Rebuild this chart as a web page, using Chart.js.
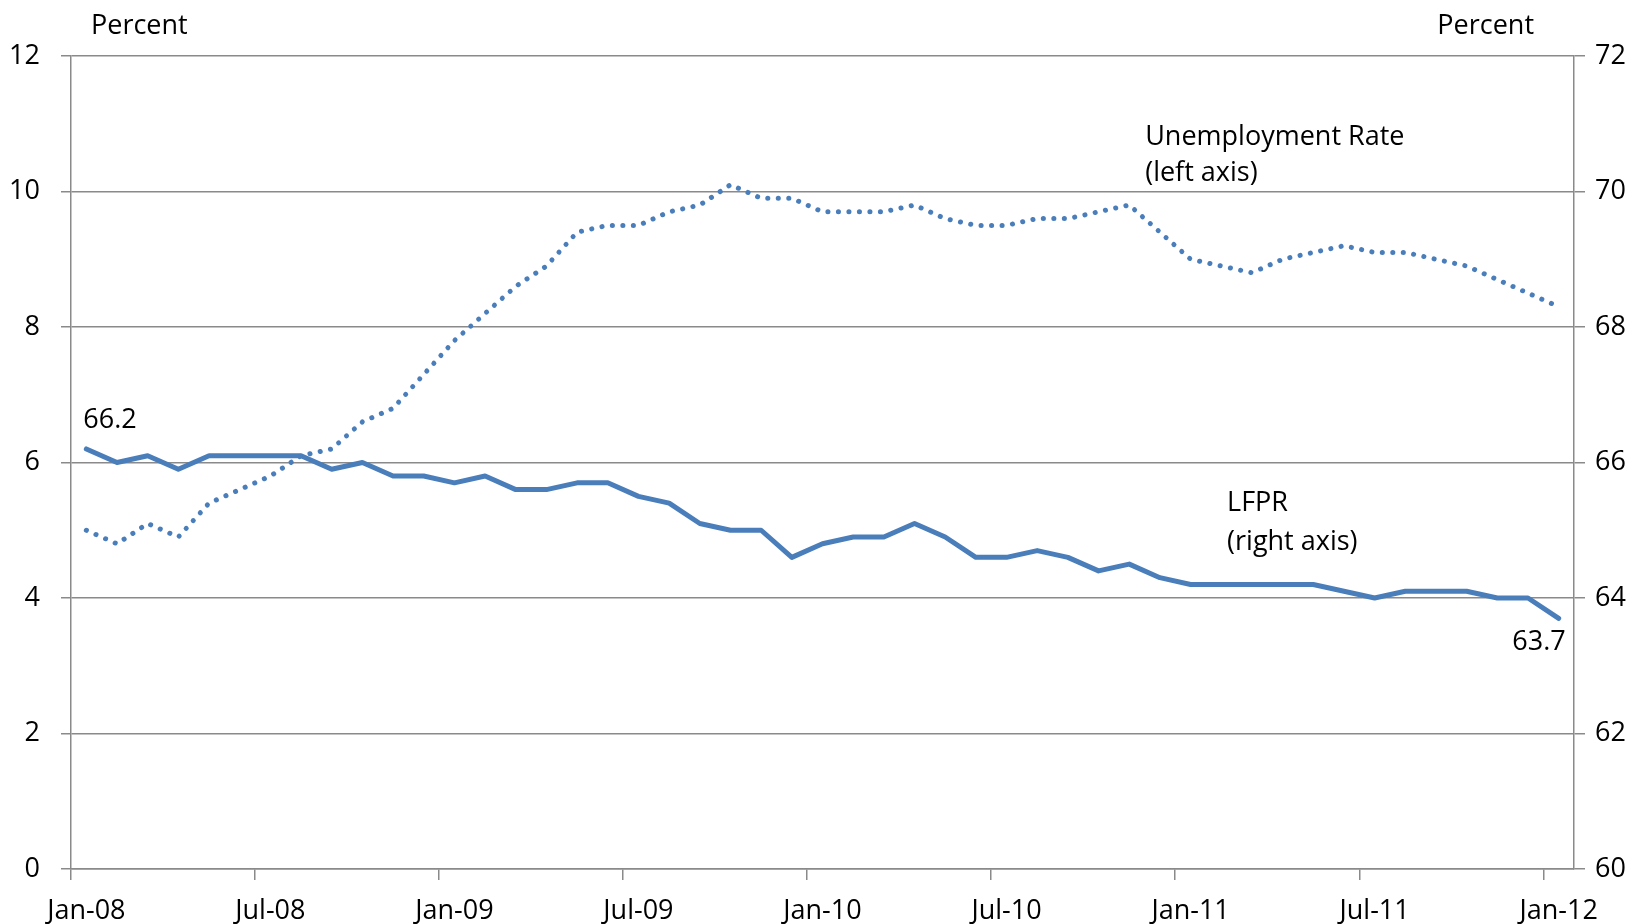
<!DOCTYPE html>
<html>
<head>
<meta charset="utf-8">
<script src="https://cdn.jsdelivr.net/npm/chart.js@4.4.1/dist/chart.umd.min.js"></script>
<style>
    html, body { margin: 0; padding: 0; background: #fff; }
    #wrap { width: 1641px; height: 924px; }
</style>
</head>
<body>
<div id="wrap"><canvas id="mainChart" width="1641" height="924"></canvas></div>
<script>
    // Monthly, Jan-08 .. Jan-12
    const months = [
        'Jan-08','Feb-08','Mar-08','Apr-08','May-08','Jun-08','Jul-08','Aug-08','Sep-08','Oct-08','Nov-08','Dec-08',
        'Jan-09','Feb-09','Mar-09','Apr-09','May-09','Jun-09','Jul-09','Aug-09','Sep-09','Oct-09','Nov-09','Dec-09',
        'Jan-10','Feb-10','Mar-10','Apr-10','May-10','Jun-10','Jul-10','Aug-10','Sep-10','Oct-10','Nov-10','Dec-10',
        'Jan-11','Feb-11','Mar-11','Apr-11','May-11','Jun-11','Jul-11','Aug-11','Sep-11','Oct-11','Nov-11','Dec-11',
        'Jan-12'
    ];

    // unemployment rate, left axis
    const unemployment = [
        5.0, 4.8, 5.1, 4.9, 5.4, 5.6, 5.8, 6.1, 6.2, 6.6, 6.8, 7.3,
        7.8, 8.2, 8.6, 8.9, 9.4, 9.5, 9.5, 9.7, 9.8, 10.1, 9.9, 9.9,
        9.7, 9.7, 9.7, 9.8, 9.6, 9.5, 9.5, 9.6, 9.6, 9.7, 9.8, 9.4,
        9.0, 8.9, 8.8, 9.0, 9.1, 9.2, 9.1, 9.1, 9.0, 8.9, 8.7, 8.5,
        8.3
    ];

    // labor force participation rate, right axis
    const lfpr = [
        66.2, 66.0, 66.1, 65.9, 66.1, 66.1, 66.1, 66.1, 65.9, 66.0, 65.8, 65.8,
        65.7, 65.8, 65.6, 65.6, 65.7, 65.7, 65.5, 65.4, 65.1, 65.0, 65.0, 64.6,
        64.8, 64.9, 64.9, 65.1, 64.9, 64.6, 64.6, 64.7, 64.6, 64.4, 64.5, 64.3,
        64.2, 64.2, 64.2, 64.2, 64.2, 64.1, 64.0, 64.1, 64.1, 64.1, 64.0, 64.0,
        63.7
    ];

    const leftTicks = [0, 2, 4, 6, 8, 10, 12];
    const rightTicks = [60, 62, 64, 66, 68, 70, 72];

    const BLUE = '#4a7ebb';
    const GRID = '#8a8a8a';
    const FONT_FAMILY = '"Open Sans", sans-serif';
    const FONT_SIZE = 27;
    const FONT = `${FONT_SIZE}px ${FONT_FAMILY}`;

    // text that Excel put on the plot
    const notesPlugin = {
        id: 'notes',
        afterDraw(chart) {
            const { ctx, chartArea: a, scales } = chart;
            const x = scales.x, y = scales.y, y1 = scales.y1;
            const last = lfpr.length - 1;
            ctx.save();
            ctx.font = FONT;
            ctx.fillStyle = '#000';
            ctx.textBaseline = 'middle';

            ctx.textAlign = 'left';
            ctx.fillText('Percent', a.left + 20, 26);
            ctx.textAlign = 'right';
            ctx.fillText('Percent', a.right - 40, 26);

            ctx.textAlign = 'left';
            const ux = x.getPixelForValue(34.52);
            const uy = y.getPixelForValue(10.8);
            ctx.fillText('Unemployment Rate', ux, uy);
            ctx.fillText('(left axis)', ux, uy + 36);

            const lx = x.getPixelForValue(37.19);
            const ly = y1.getPixelForValue(65.4);
            ctx.fillText('LFPR', lx, ly);
            ctx.fillText('(right axis)', lx, ly + 39);

            // end point labels
            const p0x = x.getPixelForValue(0), p0y = y1.getPixelForValue(lfpr[0]);
            ctx.fillText(lfpr[0].toFixed(1), p0x - 3, p0y - 29);
            const pnx = x.getPixelForValue(last), pny = y1.getPixelForValue(lfpr[last]);
            ctx.textAlign = 'right';
            ctx.fillText(lfpr[last].toFixed(1), pnx + 7, pny + 24);
            ctx.restore();
        }
    };

    const ctx = document.getElementById('mainChart').getContext('2d');
    const mainChart = new Chart(ctx, {
        type: 'line',
        data: {
            labels: months,
            datasets: [{
                label: 'Unemployment Rate',
                data: unemployment,
                yAxisID: 'y',
                borderColor: BLUE,
                borderWidth: 5,
                borderDash: [0.1, 10.4],
                borderCapStyle: 'round',
                pointRadius: 0,
                tension: 0,
                fill: false
            }, {
                label: 'LFPR',
                data: lfpr,
                yAxisID: 'y1',
                borderColor: BLUE,
                borderWidth: 5,
                borderJoinStyle: 'round',
                borderCapStyle: 'round',
                pointRadius: 0,
                tension: 0,
                fill: false
            }]
        },
        options: {
            responsive: false,
            devicePixelRatio: 1,
            animation: false,
            layout: { padding: { top: 56, left: 0, right: 0, bottom: 0 } },
            plugins: {
                legend: { display: false },
                tooltip: { enabled: false }
            },
            scales: {
                x: {
                    type: 'category',
                    offset: true,
                    afterFit: s => { s.height = 55; },
                    grid: {
                        offset: true,
                        drawOnChartArea: false,
                        drawTicks: true,
                        tickLength: 11,
                        lineWidth: 1.5,
                        color: c => (c.index % 6 === 0 ? GRID : 'rgba(0,0,0,0)')
                    },
                    border: { display: true, color: GRID, width: 1.5 },
                    ticks: {
                        autoSkip: false,
                        maxRotation: 0,
                        minRotation: 0,
                        padding: 15,
                        color: '#000',
                        font: { family: FONT_FAMILY, size: FONT_SIZE }
                    ,
                        callback: (v, i) => (i % 6 === 0 ? months[i] : '')
                    }
                },
                y: {
                    position: 'left',
                    min: leftTicks[0],
                    max: leftTicks[leftTicks.length - 1],
                    afterFit: s => { s.width = 71; },
                    afterBuildTicks: s => { s.ticks = leftTicks.map(v => ({ value: v })); },
                    grid: { color: GRID, lineWidth: 1.5, tickLength: 10 },
                    border: { display: true, color: GRID, width: 1.5 },
                    ticks: {
                        padding: 21,
                        color: '#000',
                        font: { family: FONT_FAMILY, size: FONT_SIZE }
                    }
                },
                y1: {
                    position: 'right',
                    min: rightTicks[0],
                    max: rightTicks[rightTicks.length - 1],
                    afterFit: s => { s.width = 67; },
                    afterBuildTicks: s => { s.ticks = rightTicks.map(v => ({ value: v })); },
                    grid: { drawOnChartArea: false, color: GRID, lineWidth: 1.5, tickLength: 11 },
                    border: { display: true, color: GRID, width: 1.5 },
                    ticks: {
                        padding: 10,
                        color: '#000',
                        font: { family: FONT_FAMILY, size: FONT_SIZE }
                    }
                }
            }
        },
        plugins: [notesPlugin]
    });
</script>
</body>
</html>
